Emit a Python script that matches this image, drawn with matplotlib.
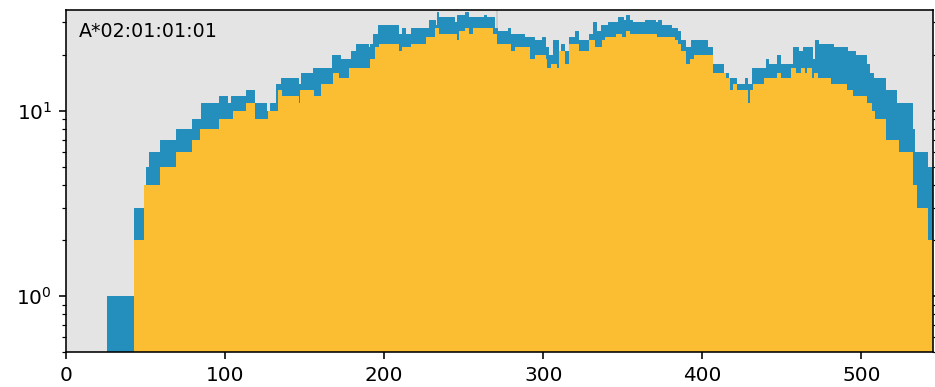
import matplotlib
matplotlib.use("Agg")
import matplotlib.pyplot as plt

# read depth along the sequence, stored as run starts (position, count)
total_pos = [26, 43, 50, 52, 59, 69, 79, 85, 96, 101, 104, 113, 118, 126, 128,
             132, 135, 146, 148, 155, 167, 172, 179, 182, 190, 191, 193, 196,
             209, 211, 213, 217, 228, 232, 233, 234, 244, 246, 251, 253, 263,
             264, 269, 271, 278, 279, 288, 294, 299, 301, 303, 306, 309, 311,
             313, 316, 320, 322, 329, 331, 333, 336, 341, 347, 350, 352, 354,
             356, 364, 370, 372, 374, 380, 384, 386, 389, 393, 403, 406, 413,
             416, 421, 427, 428, 431, 440, 441, 447, 449, 457, 460, 463, 469,
             471, 473, 482, 491, 496, 503, 505, 507, 515, 522, 532, 533, 541,
             545]
total_val = [1, 3, 5, 6, 7, 8, 9, 11, 12, 11, 12, 13, 11, 10, 11,
             14, 15, 14, 16, 17, 20, 19, 21, 23, 22, 23, 26, 29,
             26, 28, 26, 28, 31, 29, 34, 32, 30, 33, 34, 32, 33,
             32, 28, 27, 28, 26, 25, 24, 25, 22, 20, 24, 19, 23,
             21, 25, 27, 24, 26, 30, 27, 29, 30, 32, 31, 33, 31,
             30, 31, 30, 31, 29, 28, 27, 24, 22, 24, 22, 18, 16,
             15, 14, 15, 14, 17, 19, 18, 20, 18, 22, 21, 22, 19,
             24, 23, 22, 21, 20, 18, 16, 15, 13, 11, 8, 6, 5,
             5]

subset_pos = [43, 49, 59, 69, 79, 84, 96, 105, 113, 118, 127, 133, 135, 146,
              147, 155, 160, 168, 171, 178, 191, 194, 197, 204, 205, 209, 211,
              217, 226, 232, 234, 245, 247, 251, 253, 256, 268, 270, 279, 282,
              291, 295, 301, 302, 305, 308, 310, 313, 316, 322, 329, 332, 337,
              339, 346, 349, 352, 354, 371, 382, 384, 386, 389, 392, 395, 406,
              414, 417, 419, 421, 428, 430, 432, 439, 447, 449, 456, 458, 462,
              464, 466, 468, 470, 472, 480, 490, 494, 503, 506, 508, 515, 523,
              532, 534, 541, 545]
subset_val = [2, 4, 5, 6, 7, 8, 9, 10, 11, 9, 10, 13, 12, 11,
              13, 12, 14, 16, 15, 17, 19, 22, 23, 22, 23, 21, 22,
              23, 25, 28, 26, 24, 27, 28, 26, 28, 26, 23, 21, 22,
              19, 20, 19, 17, 18, 17, 21, 18, 23, 21, 24, 22, 24,
              25, 26, 25, 27, 26, 25, 24, 23, 21, 18, 19, 20, 16,
              15, 13, 14, 13, 11, 13, 14, 15, 16, 15, 17, 16, 17,
              16, 17, 15, 16, 15, 14, 13, 12, 11, 10, 9, 7, 6,
              4, 3, 2, 2]

label = "A*02:01:01:01"
marker_pos = 271

fig = plt.figure(figsize=(935 / 144, 387 / 144), dpi=144)
ax = fig.add_axes([66 / 935, 35 / 387, 867 / 935, 342 / 387])
ax.set_facecolor('#e4e4e4')

ax.axvline(marker_pos, color='#c8c8c8', lw=0.8, zorder=1)
ax.fill_between(total_pos, total_val, 0.1, step='post', color='#248fbd',
                lw=0.5, zorder=2)
ax.fill_between(subset_pos, subset_val, 0.1, step='post', color='#fbbe32',
                lw=0.5, zorder=3)

ax.set_yscale('log')
ax.set_xlim(0, 545)
ax.set_ylim(0.5, 35)
ax.set_xticks([0, 100, 200, 300, 400, 500])
ax.tick_params(which='both', right=True)
for s in ax.spines.values():
    s.set_zorder(5)

ax.text(0.015, 0.965, label, transform=ax.transAxes, va='top', ha='left',
        fontsize=9.5, zorder=6)

fig.savefig('out.png', dpi=144)
